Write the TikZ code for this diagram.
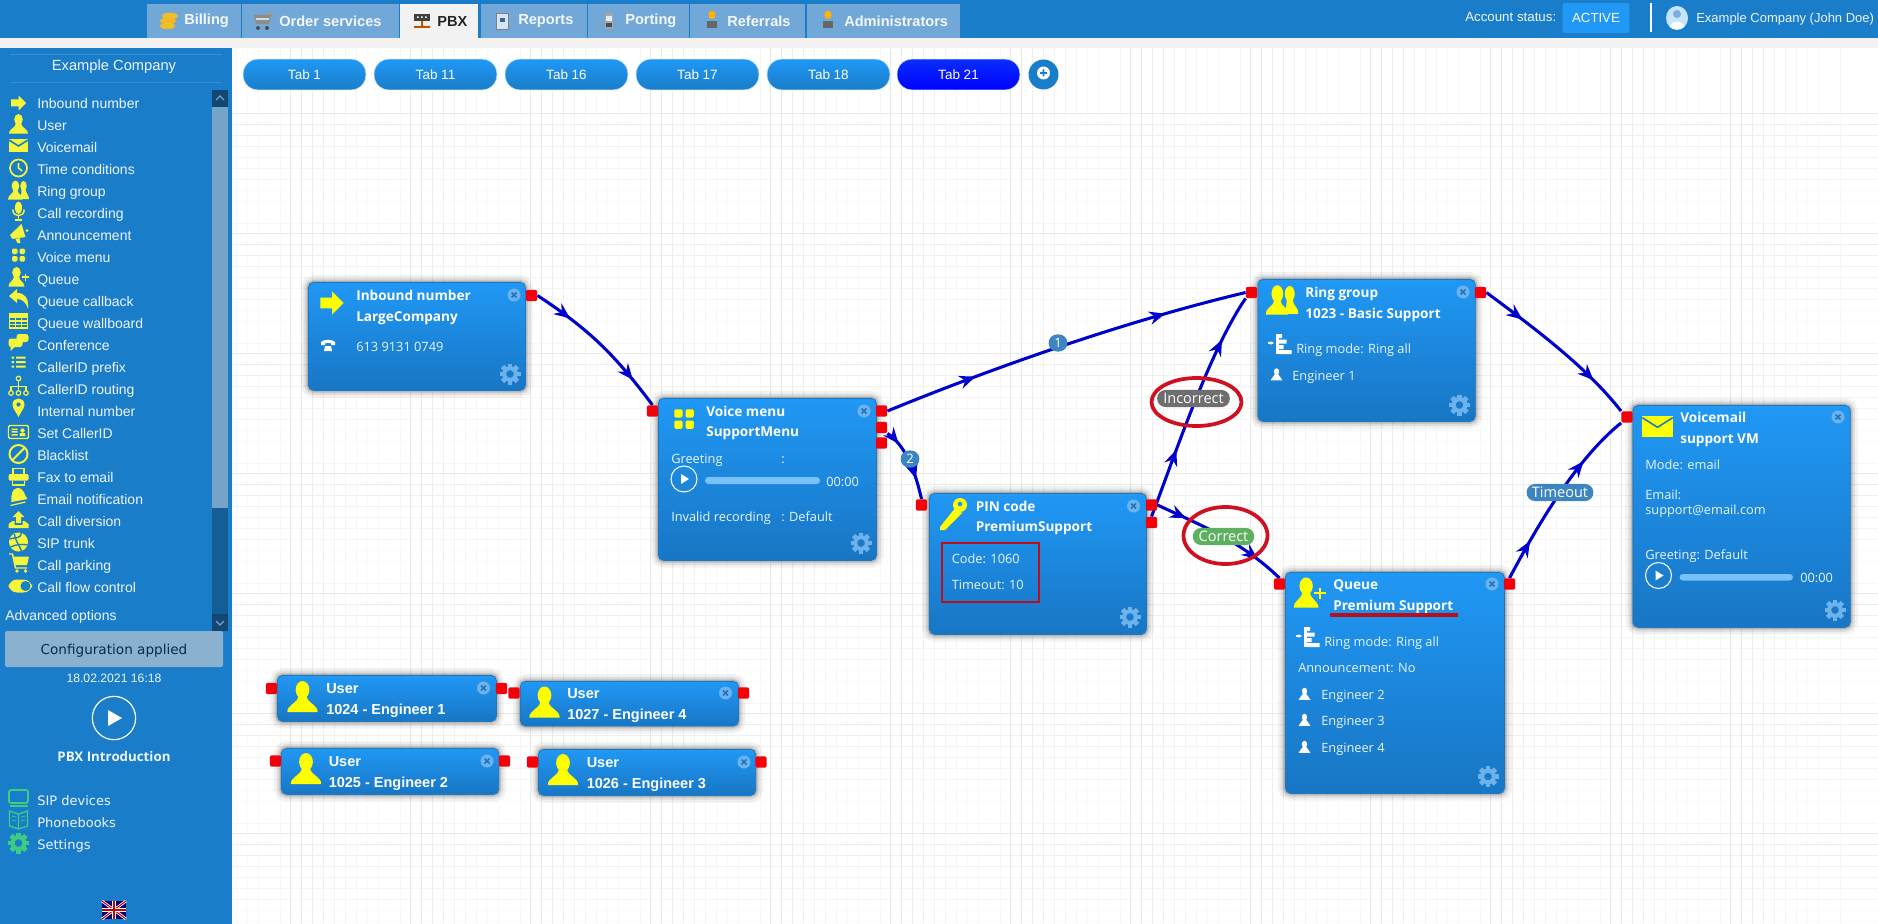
\documentclass[tikz,border=0pt]{standalone}
\usepackage{fontspec}
\setmainfont{Liberation Sans}
\setsansfont{Liberation Sans}
\newfontfamily\blockfont{Open Sans}
\newfontfamily\verdfont{DejaVu Sans}
\usetikzlibrary{arrows.meta,decorations.markings}

\definecolor{barblue}{RGB}{26,125,201}
\definecolor{tabblue}{RGB}{113,168,215}
\definecolor{bandgrey}{RGB}{242,242,242}
\definecolor{iconyellow}{RGB}{245,245,60}
\definecolor{nodeyellow}{RGB}{255,255,0}
\definecolor{icongreen}{RGB}{60,205,130}
\definecolor{flowblue}{RGB}{0,0,205}
\definecolor{portred}{RGB}{245,0,10}
\definecolor{ringred}{RGB}{208,16,32}
\definecolor{boxtop}{RGB}{32,152,245}
\definecolor{boxbottom}{RGB}{24,118,196}
\definecolor{gearblue}{RGB}{110,178,235}
\definecolor{pillblue}{RGB}{60,133,192}
\definecolor{pillgrey}{RGB}{110,110,110}
\definecolor{pillgreen}{RGB}{92,176,96}
\definecolor{thumbblue}{RGB}{118,163,200}
\definecolor{trackblue}{RGB}{21,93,150}
\definecolor{capblue}{RGB}{18,70,115}
\definecolor{coingold}{RGB}{240,190,40}

\pgfdeclarelayer{gridlayer}
\pgfdeclarelayer{flowlayer}
\pgfsetlayers{gridlayer,flowlayer,main}

\newcommand{\sizepx}[1]{\pgfmathsetmacro\sizept{#1*0.75}\fontsize{\sizept}{\sizept}\selectfont}

\tikzset{every picture/.style={line width=0.75pt},
    every pic/.style={yscale=-1},
    % shapes of the icons, all in pixels round the middle of the icon
    pics/arrowicon/.style={code={\fill (-7.5,-3.5) -- (0,-3.5) -- (0,-7.5) -- (7.5,0) -- (0,7.5) -- (0,3.5) -- (-7.5,3.5) -- cycle;}},
    pics/usericon/.style={code={
        \fill (0,-4.5) ellipse (4.3 and 5.5);
        \fill (-9.5,9.5) .. controls (-9.5,4.5) and (-3.5,4.5) .. (-2.5,-0.5) -- (2.5,-0.5) .. controls (3.5,4.5) and (9.5,4.5) .. (9.5,9.5) -- cycle;}},
    pics/mailicon/.style={code={
        \fill (-9.5,-6.5) rectangle (9.5,6.5);
        \draw [barblue,line width=1.2pt] (-9.5,-5.5) -- (0,0.5) -- (9.5,-5.5);}},
    pics/clockicon/.style={code={
        \draw [line width=1.3pt] (0,0) circle (8.5);
        \draw [line width=1.2pt] (0,-5) -- (0,0) -- (3.5,3);}},
    pics/groupicon/.style={code={
        \fill (5,-4) ellipse (3.2 and 5);
        \fill (1,9) .. controls (3,4) and (3,2) .. (3,0) -- (7,0) .. controls (7,4) and (10.5,4) .. (10.5,9) -- cycle;
        \fill (-3,-4) ellipse (3.8 and 5.5);
        \fill (-10.5,9.5) .. controls (-10.5,4.5) and (-5,4) .. (-5,0) -- (-1,0) .. controls (-1,4) and (4,4.5) .. (4,9.5) -- cycle;}},
    pics/micicon/.style={code={
        \fill [rounded corners=3] (-3.5,-10) rectangle (3.5,3);
        \draw [line width=1.1pt] (-6,-1.5) .. controls (-6,7) and (6,7) .. (6,-1.5);
        \draw [line width=1.1pt] (0,5) -- (0,9) (-4,9.5) -- (4,9.5);}},
    pics/hornicon/.style={code={
        \fill (-8.5,2) -- (3,-9) -- (7,4) -- (-6,6) -- cycle;
        \fill (-3,6) -- (1,5) -- (2,10) -- (-1,10) -- cycle;
        \fill (8.5,-2.5) circle (1.5);}},
    pics/gridicon/.style={code={
        \fill [rounded corners=1] (-6.5,-6.5) rectangle (-1,-1);
        \fill [rounded corners=1] (1,-6.5) rectangle (6.5,-1);
        \fill [rounded corners=1] (-6.5,1) rectangle (-1,6.5);
        \fill [rounded corners=1] (1,1) rectangle (6.5,6.5);}},
    pics/queueicon/.style={code={
        \fill (-2.5,-4.5) ellipse (4.3 and 5.5);
        \fill (-10.5,9.5) .. controls (-10.5,4.5) and (-5.5,4.5) .. (-5,-0.5) -- (0,-0.5) .. controls (0.5,4.5) and (5,4.5) .. (5.5,9.5) -- cycle;
        \draw [line width=1.4pt] (6.5,-3.5) -- (6.5,4) (2.8,0.2) -- (10.2,0.2);}},
    pics/backicon/.style={code={\fill (-10,-3) -- (-2,-10) -- (-2,-6) .. controls (6,-6) and (10,-1) .. (9,10) .. controls (7,3) and (3,0) .. (-2,0) -- (-2,4) -- cycle;}},
    pics/tableicon/.style={code={
        \draw [line width=1.1pt] (-9,-7) rectangle (9,7);
        \fill (-9,-7) rectangle (9,-3);
        \draw [line width=0.9pt] (-9,0) -- (9,0) (-9,3.5) -- (9,3.5) (-3,-7) -- (-3,7) (3,-7) -- (3,7);}},
    pics/chaticon/.style={code={
        \fill [rounded corners=2] (-2,-8) rectangle (10,0);
        \fill [rounded corners=2] (-10,-3.5) rectangle (4,5);
        \fill (-8,4) -- (-8,9) -- (-3,4) -- cycle;}},
    pics/listicon/.style={code={
        \fill (-7,-5.5) rectangle (-4.5,-3.5) (-2.5,-5.5) rectangle (7,-3.5);
        \fill (-7,-1) rectangle (-4.5,1) (-2.5,-1) rectangle (7,1);
        \fill (-7,3.5) rectangle (-4.5,5.5) (-2.5,3.5) rectangle (7,5.5);}},
    pics/treeicon/.style={code={
        \draw [line width=0.9pt] (0,-7.5) circle (2.3) (-7.5,7) circle (2.3) (0,7) circle (2.3) (7.5,7) circle (2.3);
        \draw [line width=0.9pt] (0,-5) -- (0,4.5) (-7.5,4.5) -- (-7.5,0.5) -- (7.5,0.5) -- (7.5,4.5);}},
    pics/pinicon/.style={code={\fill [even odd rule] (0,9) .. controls (-3,3) and (-6,0) .. (-6,-3.5) .. controls (-6,-11.5) and (6,-11.5) .. (6,-3.5) .. controls (6,0) and (3,3) .. (0,9) -- cycle (0,-3.5) circle (2.2);}},
    pics/cardicon/.style={code={
        \draw [line width=1.1pt,rounded corners=1] (-10,-6.5) rectangle (10,6.5);
        \fill (-7,-3.5) rectangle (-1,-2) (-7,-0.8) rectangle (-1,0.7) (-7,2) rectangle (-1,3.5);
        \fill (4,-1.5) circle (2.2) (1,4) -- (1.5,1) -- (6.5,1) -- (7,4) -- cycle;}},
    pics/banicon/.style={code={
        \draw [line width=1.5pt] (0,0) circle (9);
        \draw [line width=1.5pt] (-6.4,6.4) -- (6.4,-6.4);}},
    pics/faxicon/.style={code={
        \fill [rounded corners=1] (-10,-3) rectangle (10,3.5);
        \draw [line width=1.2pt] (-5.5,-3) -- (-5.5,-8.5) -- (5.5,-8.5) -- (5.5,-3);
        \draw [line width=1.2pt] (-6,3.5) -- (-6,8) -- (6,8) -- (6,3.5);}},
    pics/bellicon/.style={code={
        \fill (-7,5) .. controls (-8,-2) and (-6,-9) .. (-1,-9) .. controls (6,-9) and (6,-1) .. (9,2) -- cycle;
        \draw [line width=0.9pt] (-8,8.5) -- (7,5);}},
    pics/trayicon/.style={code={
        \fill (0,-9) -- (6,-3) -- (2.5,-3) -- (2.5,3) -- (-2.5,3) -- (-2.5,-3) -- (-6,-3) -- cycle;
        \fill (-10,8) -- (-10,4) -- (-6,1) -- (-4,1) -- (-4,5) -- (4,5) -- (4,1) -- (6,1) -- (10,4) -- (10,8) -- cycle;}},
    pics/globeicon/.style={code={
        \fill (0,0) circle (9.5);
        \draw [barblue,line width=1pt] (-9,-3) .. controls (-3,-5) and (3,-3) .. (3,-9.5) (-4,-8) .. controls (-3,0) and (2,5) .. (3,9) (-8,5) .. controls (-2,2) and (5,2) .. (9,3);}},
    pics/carticon/.style={code={
        \fill (-5.5,-6.5) -- (10,-6.5) -- (8,2) -- (-3.5,2) -- cycle;
        \draw [line width=1.1pt] (-10,-9) -- (-6.5,-9) -- (-3.5,5) -- (8,5);
        \fill (-2,8) circle (1.9) (6.5,8) circle (1.9);}},
    pics/toggleicon/.style={code={
        \fill [rounded corners=6.4] (-11.5,-6.5) rectangle (12,6.5);
        \fill [barblue] (5.5,0) circle (5);}},
    pics/screenicon/.style={code={
        \draw [line width=1.3pt,rounded corners=1.5] (-9.5,-8) rectangle (9.5,5);
        \fill (-9,6.5) rectangle (9,8.5);}},
    pics/bookicon/.style={code={
        \draw [line width=1pt] (0,-6) -- (-9,-9) -- (-9,6) -- (0,9) -- (9,6) -- (9,-9) -- cycle (0,-6) -- (0,9);
        \draw [line width=0.6pt] (-6.5,-4) -- (-2.5,-3) (-6.5,0) -- (-2.5,1) (2.5,-3) -- (6.5,-4) (2.5,1) -- (6.5,0);}},
    pics/gearicon/.style={code={
        \foreach \teeth in {0,45,...,315} \fill [rotate=\teeth] (-2.4,-10.5) rectangle (2.4,-6);
        \draw [line width=3pt] (0,0) circle (5.8);}},
    pics/keyicon/.style={code={
        \fill [even odd rule] (7,-9) circle (7) (7,-10) circle (2.5);
        \fill (3,-7) -- (9,-1) -- (-8,16) -- (-13,16) -- (-13,13) -- cycle;}},
    pics/ringmodeicon/.style={code={
        \draw [line width=1pt,-{Latex[length=3pt,width=3pt]}] (-12,-1) -- (-5,-1);
        \fill (-4,-10) rectangle (-1,10);
        \fill (-1,-10) rectangle (2.5,-6) (-1,-4.5) rectangle (7,-0.5) (-1,1) rectangle (4,5) (-1,6) rectangle (12,10);}},
    pics/closeicon/.style={code={
        \fill [gearblue] (0,0) circle (6.5);
        \draw [boxbottom,line width=1.1pt] (-2.5,-2.5) -- (2.5,2.5) (-2.5,2.5) -- (2.5,-2.5);}},
    pics/playicon/.style={code={
        \draw [white,line width=0.8pt] (0,0) circle (13);
        \fill [white] (-3,-5) -- (5,0) -- (-3,5) -- cycle;}},
    pics/phoneicon/.style={code={
        \fill (-7,-4) .. controls (-3,-7) and (3,-7) .. (7,-4) -- (7,-1) -- (3,-1) -- (3,-3) -- (-3,-3) -- (-3,-1) -- (-7,-1) -- cycle;
        \fill (-4,5) -- (-3,0) -- (3,0) -- (4,5) -- cycle;}},
    pics/coinicon/.style={code={
        \fill [coingold,rounded corners=3] (-7,-8) rectangle (9,-2);
        \fill [coingold!90!orange,rounded corners=3] (-9,-3) rectangle (7,3);
        \fill [coingold,rounded corners=3] (-9,2) rectangle (6,8);}},
    pics/trolleyicon/.style={code={
        \fill [black!45] (-9,-6) -- (8,-6) -- (6,3) -- (-7,3) -- cycle;
        \fill [white!85!black] (-7,-3) rectangle (6,-1);
        \draw [orange,line width=1pt] (9,-8) -- (8,-5);
        \fill [black!70] (-5,7) circle (2) (4,7) circle (2);}},
    pics/pbxicon/.style={code={
        \fill [black!75] (-8,-7) rectangle (8,0);
        \fill [white] (-5,-4.5) rectangle (-3.5,-3) (-1,-4.5) rectangle (0.5,-3) (3,-4.5) rectangle (4.5,-3);
        \fill [orange!70!black] (-8,5) rectangle (8,7) (-1,0) rectangle (1,5);}},
    pics/reporticon/.style={code={
        \fill [white!70!tabblue] (-6,-8) rectangle (6,8);
        \draw [black!50,line width=0.5pt] (-6,-8) rectangle (6,8);
        \fill [tabblue!60!black] (-2,-3) rectangle (3,1);}},
    pics/mobileicon/.style={code={
        \fill [black!35] (-4,-8) rectangle (4,8);
        \fill [white!80!tabblue] (-3,-5) rectangle (3,0);
        \fill [black!70] (-3,2) rectangle (3,6);}},
    pics/staffbadge/.style={code={
        \fill [orange!60!yellow] (0,-5) ellipse (3.5 and 4);
        \fill (-5,8) -- (-5,1) -- (5,1) -- (5,8) -- cycle;}},
    % looks of the boxes and labels
    block/.style={draw=boxtop!80!black,line width=0.6pt,rounded corners=4pt,top color=boxtop,bottom color=boxbottom,inner sep=0pt,anchor=north west,
        preaction={draw=black,draw opacity=.05,line width=11pt},
        preaction={draw=black,draw opacity=.07,line width=7pt},
        preaction={draw=black,draw opacity=.10,line width=4pt},
        preaction={draw=black,draw opacity=.14,line width=2pt}},
    port/.style={fill=portred,rounded corners=1.5pt,minimum width=8.5pt,minimum height=8.5pt,inner sep=0pt},
    flow/.style 2 args={draw=flowblue,line width=2.3pt,postaction={decorate},decoration={markings,
        mark=at position #1 with {\arrow{Stealth[length=12pt,width=10pt,inset=4pt]}},
        mark=at position #2 with {\arrow{Stealth[length=12pt,width=10pt,inset=4pt]}}}},
    pagetab/.style={top color=boxtop,bottom color=barblue,rounded corners=11pt,minimum width=92pt,minimum height=23pt,inner sep=0pt,text=white,font=\sizepx{13.5}\sffamily,draw=white!70!boxtop,line width=0.4pt},
    toptab/.style={fill=tabblue,anchor=north west,inner sep=0pt},
    toptext/.style={anchor=west,inner sep=0pt,text=white!92!tabblue,font=\sizepx{14.6}\sffamily\bfseries},
    menutext/.style={anchor=west,inner sep=0pt,text height=10.3pt,text depth=2.2pt,text=white!92!barblue,font=\sizepx{14}\sffamily},
    lowertext/.style={anchor=west,inner sep=0pt,text height=10.3pt,text depth=2.2pt,text=white!92!barblue,font=\sizepx{13}\verdfont},
    titletext/.style={anchor=west,inner sep=0pt,text height=10.3pt,text depth=2.2pt,text=white,font=\sizepx{13.6}\blockfont\bfseries},
    usertext/.style={anchor=west,inner sep=0pt,text height=10.3pt,text depth=2.2pt,text=white,font=\sizepx{14.5}\sffamily\bfseries},
    infotext/.style={anchor=west,inner sep=0pt,text height=10.3pt,text depth=2.2pt,text=white!90!boxtop,font=\sizepx{12.8}\blockfont},
    pill/.style={rounded corners=6.2pt,inner sep=0pt,minimum height=12.8pt,text=white,font=\sizepx{14.5}\blockfont},
}

\begin{document}
\begin{tikzpicture}[x=0.75pt,y=0.75pt,yscale=-1,xscale=1]
    \path [use as bounding box] (0,0) rectangle (1878,924);

    %Shape: Page background
    \fill [bandgrey] (0,38) rectangle (1878,48);
    \fill [barblue] (0,0) rectangle (1878,38);
    \fill [bandgrey] (147,38) rectangle (478,39);
    \fill [barblue] (0,48) rectangle (232,924);

    %Shape: Grid of the canvas
    \begin{pgfonlayer}{gridlayer}
    \fill [white] (0,0) rectangle (1878,924);
    \begin{scope}
    \clip (232,48) rectangle (1878,924);
    \foreach \tile in {170.7,290.7,...,1850} {
        \foreach \off/\tone in {0/9,11/8,22/7,33/6,44/5,55/4,66/3,77/2,88/2,99/1,110/3}
            \draw [black!\tone,line width=0.5pt] (\tile+\off,48) -- (\tile+\off,924);
    }
    \end{scope}
    \begin{scope}
    \clip (232,113) rectangle (1878,924);
    \foreach \tile in {113,233,...,900} {
        \foreach \off/\tone in {0/8,11/7,22/6,33/5,44/4,55/4,66/3,77/2,88/2,99/1,110/3}
            \draw [black!\tone,line width=0.5pt] (232,\tile+\off) -- (1878,\tile+\off);
    }
    \end{scope}
    \end{pgfonlayer}

    %Shape: Tabs of the top bar
    \draw (147,4) node (billingtab) [toptab,minimum width=70.5pt,minimum height=25pt] {};
    \draw (242,4) node (ordertab) [toptab,minimum width=117.5pt,minimum height=25pt] {};
    \draw (400,4) node (pbxtab) [fill=bandgrey,anchor=north west,inner sep=0pt,minimum width=58.5pt,minimum height=33pt] {};
    \draw (481,4) node (reportstab) [toptab,minimum width=79.5pt,minimum height=25pt] {};
    \draw (588,4) node (portingtab) [toptab,minimum width=75.5pt,minimum height=25pt] {};
    \draw (690,4) node (referralstab) [toptab,minimum width=86pt,minimum height=25pt] {};
    \draw (807,4) node (admintab) [toptab,minimum width=114.5pt,minimum height=25pt] {};

    \pic at (169,21) {coinicon};
    \pic at (263,21) {trolleyicon};
    \pic at (422,21) {pbxicon};
    \pic at (502,21) {reporticon};
    \pic at (609,21) {mobileicon};
    \pic [black!60,scale=1.05] at (712,20) {staffbadge};
    \pic [black!60,scale=1.05] at (828,20) {staffbadge};

    % Text Node
    \draw (184,21) node (billingtext) [toptext] {Billing};
    \draw (279,21) node (ordertext) [toptext] {Order services};
    \draw (437,21) node (pbxtext) [toptext,text=black!85] {PBX};
    \draw (518,21) node (reportstext) [toptext] {Reports};
    \draw (625,21) node (portingtext) [toptext] {Porting};
    \draw (727,21) node (referralstext) [toptext] {Referrals};
    \draw (844,21) node (admintext) [toptext] {Administrators};

    %Shape: Account part of the top bar
    \draw (1465,17) node (statustext) [anchor=west,inner sep=0pt,text=white!92!barblue,font=\sizepx{13.3}\sffamily] {Account status:};
    \draw (1596,18) node (activebox) [fill=boxtop,rounded corners=1pt,minimum width=50pt,minimum height=22.5pt,inner sep=0pt,text=white,font=\sizepx{13.2}\sffamily] {ACTIVE};
    \draw [white,line width=0.8pt] (1651,3) -- (1651,32);
    \fill [white!75!boxtop] (1677,18) ellipse (11 and 12);
    \fill [barblue!60!white] (1677,14) circle (4);
    \fill [white] (1670,27) .. controls (1670,20) and (1684,20) .. (1684,27) .. controls (1682,30) and (1672,30) .. (1670,27) -- cycle;
    \draw (1696,19) node (accounttext) [anchor=west,inner sep=0pt,text=white!92!barblue,font=\sizepx{13}\sffamily] {Example Company (John Doe)};

    %Shape: Tabs of the canvas
    \draw (304.5,74.5) node (tabone) [pagetab] {Tab 1};
    \draw (435.5,74.5) node (tabeleven) [pagetab] {Tab 11};
    \draw (566.5,74.5) node (tabsixteen) [pagetab] {Tab 16};
    \draw (697.5,74.5) node (tabseventeen) [pagetab] {Tab 17};
    \draw (828.5,74.5) node (tabeighteen) [pagetab] {Tab 18};
    \draw (958.5,74.5) node (tabtwentyone) [pagetab,top color=blue!70!boxtop,bottom color=blue] {Tab 21};
    \draw (1043.5,74.5) node (tabplus) [circle,fill=barblue,minimum size=22.5pt,inner sep=0pt] {};
    \fill [white] (1043.5,73) circle (6.5);
    \fill [barblue] (1040,72.2) rectangle (1047,73.8) (1042.7,69.5) rectangle (1044.3,76.5);

    %Shape: Side bar
    \draw [white!12!barblue,line width=0.6pt] (10,54) -- (222,54) (10,82) -- (222,82);
    \draw (114,67) node (companytext) [font=\sizepx{14.7}\sffamily,text=white!92!barblue,inner sep=0pt] {Example Company};
    \fill [thumbblue] (212,107) rectangle (228,508);
    \fill [trackblue] (212,508) rectangle (228,631);
    \fill [capblue] (212,90) rectangle (228,107);
    \fill [capblue] (212,614) rectangle (228,631);
    \draw [thumbblue,line width=1pt] (216,100) -- (220,96) -- (224,100) (216,621) -- (220,625) -- (224,621);

    \pic [iconyellow] at (18.5,103) {arrowicon};
    \pic [iconyellow] at (18.5,124) {usericon};
    \pic [iconyellow] at (18.5,145.5) {mailicon};
    \pic [iconyellow] at (18.5,168) {clockicon};
    \pic [iconyellow] at (18.5,190) {groupicon};
    \pic [iconyellow,scale=0.95] at (18.5,211) {micicon};
    \pic [iconyellow] at (18.5,233) {hornicon};
    \pic [iconyellow] at (18.5,255) {gridicon};
    \pic [iconyellow] at (19,277) {queueicon};
    \pic [iconyellow] at (19,299) {backicon};
    \pic [iconyellow] at (18.5,321) {tableicon};
    \pic [iconyellow] at (18.5,342) {chaticon};
    \pic [iconyellow] at (18.5,362) {listicon};
    \pic [iconyellow] at (18.5,386) {treeicon};
    \pic [iconyellow] at (18.5,408) {pinicon};
    \pic [iconyellow] at (18.5,432) {cardicon};
    \pic [iconyellow] at (18.5,454) {banicon};
    \pic [iconyellow] at (18.5,477) {faxicon};
    \pic [iconyellow] at (18.5,497) {bellicon};
    \pic [iconyellow] at (18.5,520) {trayicon};
    \pic [iconyellow] at (18.5,542) {globeicon};
    \pic [iconyellow] at (19,563) {carticon};
    \pic [iconyellow] at (20,586) {toggleicon};
    \pic [icongreen] at (18.5,798) {screenicon};
    \pic [icongreen] at (18.5,820) {bookicon};
    \pic [icongreen] at (18.5,843) {gearicon};

    % Text Node
    \draw (37,103) node (menuinbound) [menutext] {Inbound number};
    \draw (37,125) node (menuuser) [menutext] {User};
    \draw (37,147) node (menuvoicemail) [menutext] {Voicemail};
    \draw (37,169) node (menutime) [menutext] {Time conditions};
    \draw (37,191) node (menuring) [menutext] {Ring group};
    \draw (37,213) node (menurecording) [menutext] {Call recording};
    \draw (37,235) node (menuannounce) [menutext] {Announcement};
    \draw (37,257) node (menuvoice) [menutext] {Voice menu};
    \draw (37,279) node (menuqueue) [menutext] {Queue};
    \draw (37,301) node (menucallback) [menutext] {Queue callback};
    \draw (37,323) node (menuwallboard) [menutext] {Queue wallboard};
    \draw (37,345) node (menuconference) [menutext] {Conference};
    \draw (37,367) node (menuprefix) [menutext] {CallerID prefix};
    \draw (37,389) node (menurouting) [menutext] {CallerID routing};
    \draw (37,411) node (menuinternal) [menutext] {Internal number};
    \draw (37,433) node (menuset) [menutext] {Set CallerID};
    \draw (37,455) node (menublack) [menutext] {Blacklist};
    \draw (37,477) node (menufax) [menutext] {Fax to email};
    \draw (37,499) node (menuemail) [menutext] {Email notification};
    \draw (37,521) node (menudiversion) [menutext] {Call diversion};
    \draw (37,543) node (menutrunk) [menutext] {SIP trunk};
    \draw (37,565) node (menuparking) [menutext] {Call parking};
    \draw (37,587) node (menuflow) [menutext] {Call flow control};
    \draw (5,615) node (advancedtext) [menutext] {Advanced options};

    \draw (114,649) node (appliedbox) [fill=thumbblue!85!white,rounded corners=1.5pt,minimum width=163.5pt,minimum height=27pt,inner sep=0pt,text=black!65!barblue,font=\sizepx{13.6}\verdfont,text height=10.3pt,text depth=2.2pt] {Configuration applied};
    \draw (114,678) node (appliedtime) [font=\sizepx{12.2}\sffamily,text=white!92!barblue,inner sep=0pt] {18.02.2021 16:18};
    \draw (114,718) node (playbig) [circle,draw=white,line width=0.9pt,minimum size=32.5pt,inner sep=0pt] {};
    \fill [white] (108,710) -- (122,718) -- (108,726) -- cycle;
    \draw (114,757) node (introtext) [font=\sizepx{13.3}\blockfont\bfseries,text=white!92!barblue,inner sep=0pt] {PBX Introduction};
    \draw (37,800) node (devicestext) [lowertext] {SIP devices};
    \draw (37,822) node (phonebookstext) [lowertext] {Phonebooks};
    \draw (37,844) node (settingstext) [lowertext] {Settings};

    %Shape: Flag
    \fill [blue!45!black] (102,901) rectangle (126,919);
    \draw [white,line width=2pt] (102,901) -- (126,919) (126,901) -- (102,919);
    \draw [red!80!black,line width=0.8pt] (102,901) -- (126,919) (126,901) -- (102,919);
    \draw [white,line width=3.6pt] (114,901) -- (114,919) (102,910) -- (126,910);
    \draw [red!80!black,line width=2pt] (114,901) -- (114,919) (102,910) -- (126,910);

    %Shape: Inbound number box
    \draw (308,282) node (inboundbox) [block,minimum width=162.75pt,minimum height=81pt] {};
    \draw (531.5,295.5) node (inboundout) [port] {};
    \pic [nodeyellow,scale=1.55] at (332,303) {arrowicon};
    \pic at (514,295) {closeicon};
    \pic [gearblue] at (510,374) {gearicon};
    \pic [white] at (328,346) {phoneicon};
    \draw (356,295) node (inboundtitle) [titletext] {Inbound number};
    \draw (356,316.5) node (inboundname) [titletext] {LargeCompany};
    \draw (356,346) node (inboundphone) [infotext] {613 9131 0749};

    %Shape: Voice menu box
    \draw (658,398) node (voicebox) [block,minimum width=163.5pt,minimum height=121.5pt] {};
    \draw (652.5,411) node (voicein) [port] {};
    \draw (881.5,411) node (voiceoutone) [port] {};
    \draw (881.5,427.5) node (voiceouttwo) [port] {};
    \draw (881.5,443) node (voiceoutthree) [port] {};
    \pic [nodeyellow,scale=1.5] at (684,419) {gridicon};
    \pic at (864,411) {closeicon};
    \pic at (684,479) {playicon};
    \pic [gearblue] at (861,543) {gearicon};
    \fill [white!40!boxtop,rounded corners=2.5] (705,477) rectangle (820,484);
    \draw (706,411) node (voicetitle) [titletext] {Voice menu};
    \draw (706,431) node (voicename) [titletext] {SupportMenu};
    \draw (671,458) node (voicegreeting) [infotext] {Greeting};
    \draw (781,458) node (voicecolon) [infotext] {:};
    \draw (826,481) node (voicetime) [infotext] {00:00};
    \draw (671,516) node (voiceinvalid) [infotext] {Invalid recording};
    \draw (781,516) node (voicedefault) [infotext] {: Default};

    %Shape: PIN code box
    \draw (929,493) node (pinbox) [block,minimum width=162.75pt,minimum height=105.75pt] {};
    \draw (921.5,505) node (pinin) [port] {};
    \draw (1151.5,505) node (pinoutone) [port] {};
    \draw (1151.5,522.5) node (pinouttwo) [port] {};
    \pic [nodeyellow] at (953,514) {keyicon};
    \pic at (1133.5,506) {closeicon};
    \pic [gearblue] at (1130,617) {gearicon};
    \draw (975.5,506) node (pintitle) [titletext] {PIN code};
    \draw (975.5,526) node (pinname) [titletext] {PremiumSupport};
    \draw (951.5,558.5) node (pincode) [infotext] {Code: 1060};
    \draw (951.5,584) node (pintimeout) [infotext] {Timeout: 10};
    \draw (990.5,572.5) node (pinmark) [draw=ringred!90!black,line width=1.9pt,minimum width=72.5pt,minimum height=44.5pt,inner sep=0pt] {};

    %Shape: Ring group box
    \draw (1257.5,279) node (ringbox) [block,minimum width=163pt,minimum height=106.5pt] {};
    \draw (1251.5,292.5) node (ringin) [port] {};
    \draw (1480.5,292.5) node (ringout) [port] {};
    \pic [nodeyellow,scale=1.55] at (1282,300) {groupicon};
    \pic at (1463,292) {closeicon};
    \pic [gearblue] at (1459.5,405) {gearicon};
    \pic [white] at (1279.5,344) {ringmodeicon};
    \pic [white,scale=0.62] at (1276.5,374.5) {usericon};
    \draw (1305,292) node (ringtitle) [titletext] {Ring group};
    \draw (1305,313) node (ringname) [titletext] {1023 - Basic Support};
    \draw (1296,348.5) node (ringmode) [infotext] {Ring mode: Ring all};
    \draw (1292,375) node (ringengineer) [infotext] {Engineer 1};

    %Shape: Queue box
    \draw (1285,572) node (queuebox) [block,minimum width=164.25pt,minimum height=165.75pt] {};
    \draw (1279.5,584) node (queuein) [port] {};
    \draw (1509.5,584) node (queueout) [port] {};
    \pic [nodeyellow,scale=1.55] at (1310,593) {queueicon};
    \pic at (1492,584) {closeicon};
    \pic [gearblue] at (1488,776.5) {gearicon};
    \pic [white] at (1307.5,637) {ringmodeicon};
    \pic [white,scale=0.62] at (1304.5,694) {usericon};
    \pic [white,scale=0.62] at (1304.5,720) {usericon};
    \pic [white,scale=0.62] at (1304.5,747) {usericon};
    \draw (1333,584) node (queuetitle) [titletext] {Queue};
    \draw (1333,605) node (queuename) [titletext] {Premium Support};
    \draw [ringred!90!black,line width=3pt] (1330,615) -- (1457.5,615);
    \draw (1324,641.5) node (queuemode) [infotext] {Ring mode: Ring all};
    \draw (1298,667.5) node (queueannounce) [infotext] {Announcement: No};
    \draw (1321,694.5) node (queueengineertwo) [infotext] {Engineer 2};
    \draw (1321,720.5) node (queueengineerthree) [infotext] {Engineer 3};
    \draw (1321,747.5) node (queueengineerfour) [infotext] {Engineer 4};

    %Shape: Voicemail box
    \draw (1632.5,405) node (mailbox) [block,minimum width=163pt,minimum height=166.5pt] {};
    \draw (1627,417) node (mailin) [port] {};
    \pic [nodeyellow,scale=1.6] at (1657.5,426.5) {mailicon};
    \pic at (1838,417) {closeicon};
    \pic at (1658.5,575.5) {playicon};
    \pic [gearblue] at (1835,610) {gearicon};
    \fill [white!40!boxtop,rounded corners=2.5] (1679.5,574) rectangle (1793,580.5);
    \draw (1680,417) node (mailtitle) [titletext] {Voicemail};
    \draw (1680,438) node (mailname) [titletext] {support VM};
    \draw (1645,464.5) node (mailmode) [infotext] {Mode: email};
    \draw (1645,494.5) node (mailemail) [infotext] {Email:};
    \draw (1645,509.5) node (mailaddress) [infotext] {support@email.com};
    \draw (1645,554.5) node (mailgreeting) [infotext] {Greeting: Default};
    \draw (1800,577.5) node (mailtime) [infotext] {00:00};

    %Shape: User boxes
    \draw (277,675) node (userone) [block,minimum width=164.25pt,minimum height=34.5pt] {};
    \draw (271.5,688.5) node (useronein) [port] {};
    \draw (501.5,688.5) node (useroneout) [port] {};
    \pic [nodeyellow,scale=1.6] at (302.5,697) {usericon};
    \pic at (483.5,688) {closeicon};
    \draw (326,688) node (useronetitle) [usertext] {User};
    \draw (326,709) node (useronename) [usertext] {1024 - Engineer 1};

    \draw (520,681) node (userfour) [block,minimum width=163.5pt,minimum height=33.5pt] {};
    \draw (514,693) node (userfourin) [port] {};
    \draw (743.5,693) node (userfourout) [port] {};
    \pic [nodeyellow,scale=1.6] at (544.5,702.5) {usericon};
    \pic at (725.5,693) {closeicon};
    \draw (567,693) node (userfourtitle) [usertext] {User};
    \draw (567,714) node (userfourname) [usertext] {1027 - Engineer 4};

    \draw (281,748) node (usertwo) [block,minimum width=163pt,minimum height=34.5pt] {};
    \draw (275.5,761) node (usertwoin) [port] {};
    \draw (504.5,761) node (usertwoout) [port] {};
    \pic [nodeyellow,scale=1.6] at (306,769) {usericon};
    \pic at (487,761) {closeicon};
    \draw (328.5,761) node (usertwotitle) [usertext] {User};
    \draw (328.5,782) node (usertwoname) [usertext] {1025 - Engineer 2};

    \draw (538,749) node (userthree) [block,minimum width=163pt,minimum height=34.5pt] {};
    \draw (532.5,762) node (userthreein) [port] {};
    \draw (761,762) node (userthreeout) [port] {};
    \pic [nodeyellow,scale=1.6] at (563,770) {usericon};
    \pic at (744,762) {closeicon};
    \draw (586.5,762) node (userthreetitle) [usertext] {User};
    \draw (586.5,783) node (userthreename) [usertext] {1026 - Engineer 3};

    %Straight Lines: connectors between the ports
    \begin{pgfonlayer}{flowlayer}
    \draw [flow={.25}{.8}] (inboundout.east) .. controls (590,330) and (615,355) .. (voicein.north);
    \draw [flow={.25}{.78}] (voiceoutone.east) .. controls (1000,365) and (1130,320) .. (ringin.west);
    \draw [flow={.2}{.72}] (voiceouttwo.south east) .. controls (905,445) and (915,470) .. (pinin.north);
    \draw [flow={.3}{.8}] (pinouttwo.north) .. controls (1175,455) and (1210,350) .. (ringin.south west);
    \draw [flow={.22}{.8}] (pinoutone.east) .. controls (1200,525) and (1240,540) .. (queuein.north);
    \draw [flow={.25}{.77}] (ringout.east) .. controls (1530,325) and (1585,365) .. (mailin.north west);
    \draw [flow={.22}{.72}] (queueout.north) .. controls (1535,530) and (1575,460) .. (mailin.south west);
    \end{pgfonlayer}

    % Text Node
    \draw (1058,343) node (firstlabel) [pill,fill=pillblue,minimum width=14pt,font=\sizepx{13}\blockfont] {1};
    \draw (910,459) node (secondlabel) [pill,fill=pillblue,minimum width=14pt,font=\sizepx{13}\blockfont] {2};
    \draw (1193.5,398.5) node (incorrectlabel) [pill,fill=pillgrey,minimum width=54.5pt] {Incorrect};
    \draw (1223.5,536.5) node (correctlabel) [pill,fill=pillgreen,minimum width=46pt] {Correct};
    \draw (1560,492.5) node (timeoutlabel) [pill,fill=pillblue,minimum width=50pt] {Timeout};

    %Shape: Ellipses round the labels
    \draw [draw=ringred,line width=2.8pt] (1196.5,402) ellipse (45 and 24);
    \draw [draw=ringred,line width=2.8pt] (1225.5,535.5) ellipse (42 and 28.5);
\end{tikzpicture}
\end{document}
